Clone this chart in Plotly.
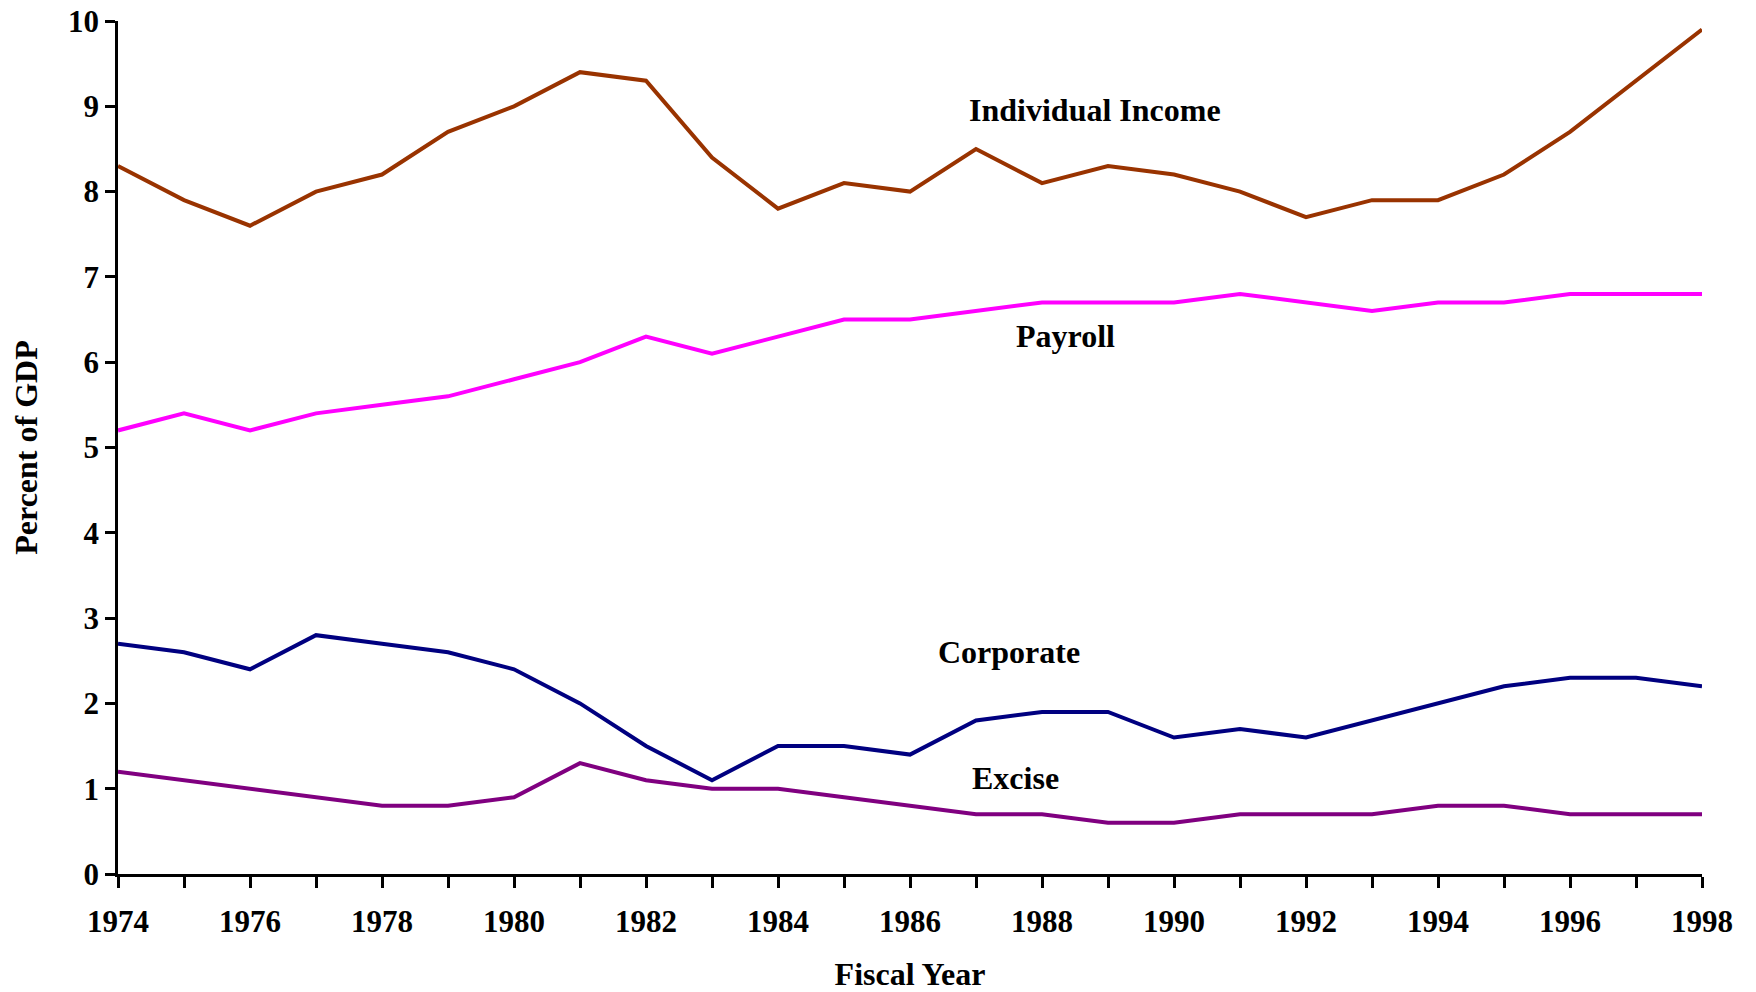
import plotly.graph_objects as go

years = list(range(1974, 1999))
individual_income = [8.3, 7.9, 7.6, 8.0, 8.2, 8.7, 9.0, 9.4, 9.3, 8.4, 7.8, 8.1, 8.0, 8.5,
                     8.1, 8.3, 8.2, 8.0, 7.7, 7.9, 7.9, 8.2, 8.7, 9.3, 9.9]
payroll = [5.2, 5.4, 5.2, 5.4, 5.5, 5.6, 5.8, 6.0, 6.3, 6.1, 6.3, 6.5, 6.5, 6.6,
           6.7, 6.7, 6.7, 6.8, 6.7, 6.6, 6.7, 6.7, 6.8, 6.8, 6.8]
corporate = [2.7, 2.6, 2.4, 2.8, 2.7, 2.6, 2.4, 2.0, 1.5, 1.1, 1.5, 1.5, 1.4, 1.8,
             1.9, 1.9, 1.6, 1.7, 1.6, 1.8, 2.0, 2.2, 2.3, 2.3, 2.2]
excise = [1.2, 1.1, 1.0, 0.9, 0.8, 0.8, 0.9, 1.3, 1.1, 1.0, 1.0, 0.9, 0.8, 0.7,
          0.7, 0.6, 0.6, 0.7, 0.7, 0.7, 0.8, 0.8, 0.7, 0.7, 0.7]

series_names = ["Individual Income", "Payroll", "Corporate", "Excise"]
series_values = [individual_income, payroll, corporate, excise]
colors = ["#993300", "#FF00FF", "#000080", "#800080"]

label_x = [1988.8, 1988.35, 1987.5, 1987.6]
label_y = [8.96, 6.31, 2.60, 1.12]

x_tickvals = years
x_ticktext = [str(y) if (y - 1974) % 2 == 0 else "" for y in years]
y_tickvals = list(range(0, 11))
y_ticktext = [str(v) for v in y_tickvals]

FONT = "Liberation Serif, Times New Roman, serif"

fig = go.Figure()
for name, vals, col in zip(series_names, series_values, colors):
    fig.add_trace(go.Scatter(x=years, y=vals, mode="lines", name=name,
                             line=dict(color=col, width=4), cliponaxis=False))

for name, lx, ly in zip(series_names, label_x, label_y):
    fig.add_annotation(x=lx, y=ly, text=name, showarrow=False,
                       font=dict(family=FONT, size=32, color="black", weight="bold"))

tickfont = dict(family=FONT, size=31, color="black", weight="bold")
titlefont = dict(family=FONT, size=32, color="black", weight="bold")

fig.update_layout(
    width=1748, height=984,
    margin=dict(l=110, r=54, t=13, b=118),
    plot_bgcolor="white", paper_bgcolor="white",
    showlegend=False,
    font=dict(family=FONT, size=31, color="black"),
    xaxis=dict(range=[1974, 1998], tickvals=x_tickvals, ticktext=x_ticktext,
               showgrid=False, zeroline=False, showline=True, linecolor="black",
               linewidth=2.5, ticks="outside", ticklen=11, tickwidth=2.5, tickcolor="black",
               tickfont=tickfont, ticklabelstandoff=7, automargin=False,
               ticklabeloverflow="allow",
               title=dict(text="Fiscal Year", font=titlefont, standoff=27)),
    yaxis=dict(range=[0, 10], tickvals=y_tickvals, ticktext=y_ticktext,
               showgrid=False, zeroline=False, showline=True, linecolor="black",
               linewidth=2.5, ticks="outside", ticklen=10, tickwidth=2.5, tickcolor="black",
               tickfont=tickfont, automargin=False, ticklabeloverflow="allow",
               title=dict(text="Percent of GDP", font=titlefont, standoff=24)),
)

fig.write_html("out.html")
